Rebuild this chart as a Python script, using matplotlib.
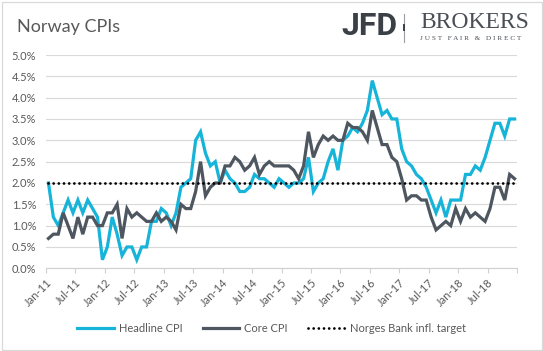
import matplotlib
matplotlib.use("Agg")
import matplotlib.pyplot as plt
from matplotlib.patches import Rectangle
from matplotlib.lines import Line2D
import numpy as np
import pandas as pd

# ---- data (monthly, Jan-2011 .. Dec-2018), y/y % ----
headline = [2.0, 1.2, 1.0, 1.3, 1.6, 1.3, 1.6, 1.3, 1.6, 1.4, 1.2, 0.2,
            0.5, 1.2, 0.8, 0.3, 0.5, 0.5, 0.2, 0.5, 0.5, 1.1, 1.1, 1.4,
            1.3, 1.0, 1.3, 1.9, 2.0, 2.1, 3.0, 3.2, 2.7, 2.4, 2.5, 2.0,
            2.3, 2.1, 2.0, 1.8, 1.8, 1.9, 2.2, 2.1, 2.1, 2.0, 1.9, 2.1,
            2.0, 1.9, 2.0, 2.0, 2.1, 2.6, 1.8, 2.0, 2.1, 2.5, 2.8, 2.3,
            3.0, 3.1, 3.3, 3.2, 3.4, 3.7, 4.4, 4.0, 3.6, 3.7, 3.5, 3.5,
            2.8, 2.5, 2.4, 2.2, 2.1, 1.9, 1.6, 1.3, 1.6, 1.2, 1.6, 1.6,
            1.6, 2.2, 2.2, 2.4, 2.3, 2.6, 3.0, 3.4, 3.4, 3.1, 3.5, 3.5]
core = [0.7, 0.8, 0.8, 1.3, 1.0, 0.7, 1.2, 0.8, 1.2, 1.2, 1.0, 1.0,
        1.3, 1.3, 1.5, 0.7, 1.4, 1.2, 1.3, 1.2, 1.1, 1.1, 1.3, 1.1,
        1.2, 1.1, 0.9, 1.5, 1.4, 1.4, 1.8, 2.5, 1.7, 1.9, 2.0, 2.0,
        2.4, 2.4, 2.6, 2.5, 2.3, 2.4, 2.6, 2.2, 2.4, 2.5, 2.4, 2.4,
        2.4, 2.4, 2.3, 2.1, 2.4, 3.2, 2.6, 2.9, 3.1, 3.0, 3.1, 3.0,
        3.0, 3.4, 3.3, 3.3, 3.2, 3.0, 3.7, 3.3, 2.9, 2.9, 2.6, 2.5,
        2.1, 1.6, 1.7, 1.7, 1.6, 1.6, 1.2, 0.9, 1.0, 1.1, 1.0, 1.4,
        1.1, 1.4, 1.2, 1.3, 1.2, 1.1, 1.4, 1.9, 1.9, 1.6, 2.2, 2.1]
target = 2.0
months = pd.date_range("2011-01-01", periods=len(headline), freq="MS")
tick_labels = ["Jan-11", "Jul-11", "Jan-12", "Jul-12", "Jan-13", "Jul-13",
               "Jan-14", "Jul-14", "Jan-15", "Jul-15", "Jan-16", "Jul-16",
               "Jan-17", "Jul-17", "Jan-18", "Jul-18", ""]
y_ticks = [0.0, 0.5, 1.0, 1.5, 2.0, 2.5, 3.0, 3.5, 4.0, 4.5, 5.0]
series_names = ["Headline CPI", "Core CPI", "Norges Bank infl. target"]

FONT = ["Lato", "DejaVu Sans"]
plt.rcParams["font.family"] = FONT

W, H = 543, 351
fig = plt.figure(figsize=(W / 100, H / 100), dpi=100)

# outer border
fig.patches.append(Rectangle((1.5 / W, 1.5 / H), (W - 3) / W, (H - 3) / H,
                             transform=fig.transFigure, fill=False,
                             edgecolor="#d9d9d9", linewidth=0.9))

left, right, top, bottom = 46, 517, 55, 268.3
ax = fig.add_axes([left / W, 1 - bottom / H, (right - left) / W, (bottom - top) / H])

# x positions: month index centred between tick marks
x = np.arange(len(months)) + 0.5
ax.set_xlim(0, len(months))
ax.set_ylim(0, 5.0)

ax.set_yticks(y_ticks)
ax.set_yticklabels([f"{v:.1f}%" for v in y_ticks])
ax.yaxis.grid(True, color="#d9d9d9", linewidth=0.8)
ax.set_axisbelow(True)

xt = np.arange(0, len(months) + 1, 6)
ax.set_xticks(xt)
ax.set_xticklabels(tick_labels, rotation=45, ha="right", rotation_mode="anchor")

for s in ["top", "right", "left"]:
    ax.spines[s].set_visible(False)
ax.spines["bottom"].set_color("#d0d0d0")
ax.spines["bottom"].set_linewidth(0.8)
ax.tick_params(axis="y", length=0, labelsize=8, labelcolor="#595959", pad=7)
ax.tick_params(axis="x", length=3.5, width=0.8, color="#d0d0d0", labelsize=8,
               labelcolor="#595959", pad=3)

c_head = "#16b4d8"
c_core = "#4e5660"
ax.plot(x, headline, color=c_head, linewidth=2.3, solid_joinstyle="miter", zorder=3)
ax.plot(x, core, color=c_core, linewidth=2.3, solid_joinstyle="miter", zorder=3)
ax.hlines(target, x[0], x[-1], colors="black", linewidth=2.0,
          linestyles=(0, (0.01, 1.85)), capstyle="round", zorder=4)
for coll in ax.collections:
    coll.set_capstyle("round")

# legend
handles = [Line2D([], [], color=c_head, linewidth=2.3),
           Line2D([], [], color=c_core, linewidth=2.3),
           Line2D([], [], color="black", linewidth=2.0, linestyle=(0, (0.01, 1.85)),
                  dash_capstyle="round")]
fig.legend(handles, series_names, loc="center", bbox_to_anchor=(0.5, 1 - 328 / H),
           ncol=3, frameon=False, fontsize=8, handlelength=3.3, handletextpad=0.45,
           columnspacing=1.8, labelcolor="#595959")

# title
fig.text(17 / W, 1 - 27 / H, "Norway CPIs", fontsize=13, fontweight="normal",
         color="#595959", ha="left", va="center")

# logo
fig.text(341 / W, 1 - 26 / H, "JFD", fontsize=23, fontweight="bold",
         family=["Roboto", "DejaVu Sans"], color="#3b4047", ha="left", va="center")
fig.add_artist(Line2D([404 / W, 404 / W], [1 - 14 / H, 1 - 42 / H],
                      transform=fig.transFigure, color="#9a9ea3", linewidth=0.8))
fig.add_artist(Line2D([404 / W, 404 / W], [1 - 25 / H, 1 - 30 / H],
                      transform=fig.transFigure, color="#3b4047", linewidth=1.4))
fig.text(420 / W, 1 - 22.5 / H, "BROKERS", fontsize=17,
         family=["Liberation Serif", "DejaVu Serif"], color="#4a4f55",
         ha="left", va="center")
fig.text(420 / W, 1 - 38 / H, "J U S T   F A I R   &   D I R E C T", fontsize=5.2,
         family=["Liberation Serif", "DejaVu Serif"], color="#4a4f55",
         ha="left", va="center")

fig.savefig("out.png", dpi=100)
